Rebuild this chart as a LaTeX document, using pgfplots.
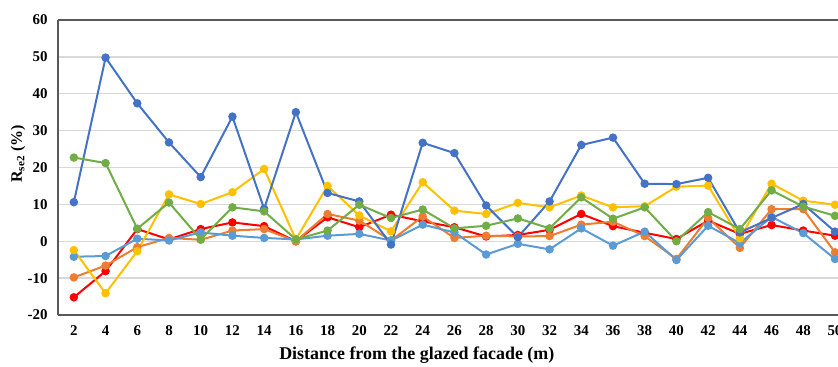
\documentclass[border=0pt]{standalone}
\usepackage{pgfplots}
\pgfplotsset{compat=1.18}
\usepackage{fontspec}
\setmainfont{Liberation Serif}
\definecolor{cDB}{HTML}{4472C4}
\definecolor{cOR}{HTML}{ED7D31}
\definecolor{cYE}{HTML}{FFC000}
\definecolor{cLB}{HTML}{5B9BD5}
\definecolor{cGR}{HTML}{70AD47}
\definecolor{cRE}{HTML}{FF0000}
\begin{document}
\begin{tikzpicture}
\begin{axis}[
  scale only axis, width=780bp, height=295bp,
  xmin=1, xmax=50.19, ymin=-20, ymax=60,
  xtick={2,4,...,50}, ytick={-20,-10,...,60},
  ymajorgrids, grid style={draw=black!15, line width=1.3bp},
  axis lines=left,
  axis line style={-, draw=black!65, line width=1.3bp},
  major tick length=0pt,
  /pgf/number format/assume math mode=true,
  tick label style={font=\bfseries\fontsize{15}{15}\selectfont},
  yticklabel style={anchor=east, xshift=-7bp},
  xticklabel style={yshift=-7bp},
  xlabel={Distance from the glazed facade (m)},
  ylabel={R\textsubscript{se2} (\%)},
  xlabel style={font=\bfseries\fontsize{18}{18}\selectfont, at={(axis description cs:0.46,0)}, anchor=center, yshift=-40bp},
  ylabel style={font=\bfseries\fontsize{16}{16}\selectfont, at={(axis description cs:-0.0513,0.546)}, anchor=center},
  every axis plot/.append style={line width=2bp, mark=*, mark size=3.2bp, mark options={solid}},
  clip=true,
]
\draw[black!65, line width=1.3bp] (rel axis cs:0,1) -- (rel axis cs:1,1);
\addplot[cRE, mark options={fill=cRE}] coordinates {(2,-15.2)(4,-8.1)(6,3.3)(8,0.5)(10,3.3)(12,5.1)(14,4.1)(16,0)(18,6.5)(20,3.8)(22,7.2)(24,5.4)(26,3.8)(28,1.3)(30,1.7)(32,3.1)(34,7.4)(36,4.1)(38,2.3)(40,0.6)(42,5.6)(44,2.0)(46,4.4)(48,2.9)(50,1.5)};
\addplot[cOR, mark options={fill=cOR}] coordinates {(2,-9.8)(4,-6.6)(6,-1.6)(8,0.9)(10,0.4)(12,2.9)(14,3.3)(16,0)(18,7.4)(20,5.6)(22,0.2)(24,6.7)(26,0.9)(28,1.5)(30,1.3)(32,1.4)(34,4.5)(36,5.3)(38,1.4)(40,-4.8)(42,6.3)(44,-1.8)(46,8.7)(48,8.7)(50,-3.0)};
\addplot[cLB, mark options={fill=cLB}] coordinates {(2,-4.2)(4,-4.0)(6,0.7)(8,0.2)(10,2.4)(12,1.5)(14,0.9)(16,0.5)(18,1.5)(20,2.0)(22,0.2)(24,4.5)(26,2.4)(28,-3.6)(30,-0.7)(32,-2.2)(34,3.5)(36,-1.2)(38,2.6)(40,-5.1)(42,4.2)(44,-0.5)(46,6.6)(48,2.2)(50,-4.8)};
\addplot[cYE, mark options={fill=cYE}] coordinates {(2,-2.4)(4,-14.1)(6,-2.7)(8,12.7)(10,10.1)(12,13.3)(14,19.6)(16,0.5)(18,15.0)(20,7.0)(22,2.7)(24,16.0)(26,8.3)(28,7.4)(30,10.4)(32,9.2)(34,12.4)(36,9.2)(38,9.5)(40,14.8)(42,15.1)(44,0.8)(46,15.6)(48,11.0)(50,9.9)};
\addplot[cDB, mark options={fill=cDB}] coordinates {(2,10.6)(4,49.8)(6,37.4)(8,26.8)(10,17.4)(12,33.8)(14,8.8)(16,35.0)(18,13.1)(20,10.8)(22,-0.9)(24,26.7)(26,23.9)(28,9.7)(30,1.1)(32,10.8)(34,26.1)(36,28.1)(38,15.6)(40,15.5)(42,17.2)(44,2.4)(46,6.3)(48,10.1)(50,2.6)};
\addplot[cGR, mark options={fill=cGR}] coordinates {(2,22.7)(4,21.2)(6,3.4)(8,10.5)(10,0.5)(12,9.2)(14,8.1)(16,0.5)(18,2.9)(20,9.9)(22,6.3)(24,8.6)(26,3.5)(28,4.2)(30,6.2)(32,3.5)(34,11.9)(36,6.1)(38,9.2)(40,0)(42,7.9)(44,3.3)(46,13.8)(48,9.4)(50,6.9)};
\end{axis}
\pgfresetboundingbox
\useasboundingbox (-58bp,-52bp) rectangle (780bp,315bp);
\end{tikzpicture}
\end{document}
